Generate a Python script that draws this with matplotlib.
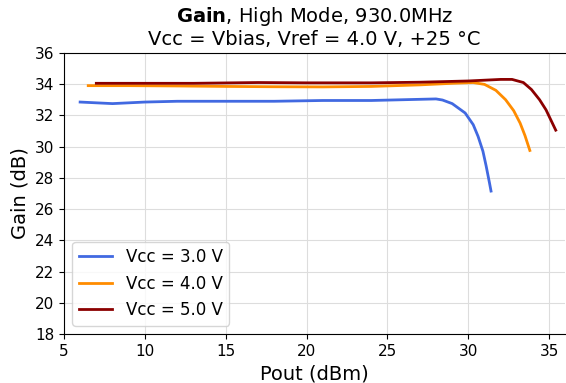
import matplotlib
matplotlib.use('Agg')
import matplotlib.pyplot as plt

# Pout (dBm) / Gain (dB)
pout_3v = [6.0, 8.0, 10.0, 12.0, 15.0, 18.0, 21.0, 24.0, 26.0, 28.0, 28.4, 29.0, 29.8, 30.3, 30.6, 30.9, 31.1, 31.3, 31.4]
gain_3v = [32.85, 32.75, 32.85, 32.9, 32.9, 32.9, 32.95, 32.95, 33.0, 33.05, 32.98, 32.75, 32.15, 31.4, 30.65, 29.7, 28.75, 27.7, 27.15]

pout_4v = [6.5, 9.0, 12.0, 15.0, 18.0, 21.0, 24.0, 27.0, 29.0, 30.3, 31.0, 31.7, 32.3, 32.8, 33.2, 33.5, 33.8]
gain_4v = [33.9, 33.9, 33.88, 33.85, 33.83, 33.82, 33.85, 33.95, 34.05, 34.1, 33.98, 33.6, 33.0, 32.3, 31.5, 30.7, 29.75]

pout_5v = [7.0, 10.0, 13.0, 17.0, 20.0, 24.0, 27.0, 30.0, 32.0, 32.7, 33.4, 33.9, 34.4, 34.8, 35.1, 35.4]
gain_5v = [34.05, 34.05, 34.05, 34.1, 34.08, 34.08, 34.12, 34.2, 34.3, 34.3, 34.1, 33.65, 33.0, 32.35, 31.7, 31.05]

labels = ['Vcc = 3.0 V', 'Vcc = 4.0 V', 'Vcc = 5.0 V']
colors = ['royalblue', 'darkorange', 'darkred']

fig = plt.figure(figsize=(5.66, 3.83), dpi=100)
ax = fig.add_axes([0.113, 0.128, 0.886, 0.734])

for x, y, lab, c in zip([pout_3v, pout_4v, pout_5v], [gain_3v, gain_4v, gain_5v], labels, colors):
  ax.plot(x, y, color=c, lw=2, label=lab)

ax.set_xlim(5, 36)
ax.set_ylim(18, 36)
ax.set_xticks([5, 10, 15, 20, 25, 30, 35])
ax.set_yticks(range(18, 37, 2))
ax.tick_params(labelsize=11)
ax.grid(True, color='#dddddd', lw=0.8)
ax.spines['right'].set_visible(False)
ax.set_xlabel('Pout (dBm)', fontsize=14)
ax.set_ylabel('Gain (dB)', fontsize=14)
ax.set_title(r'$\bf{Gain}$, High Mode, 930.0MHz' + '\nVcc = Vbias, Vref = 4.0 V, +25 °C', fontsize=14, linespacing=1.1)
ax.legend(loc='lower left', fontsize=12)

fig.savefig('out.png', dpi=100)
